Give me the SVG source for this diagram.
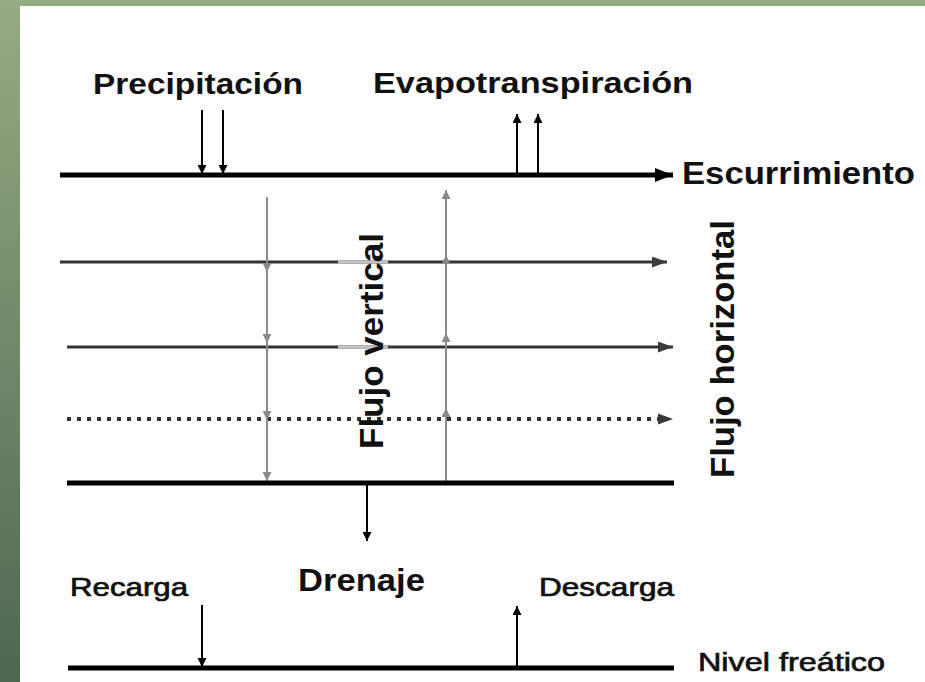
<svg xmlns="http://www.w3.org/2000/svg" width="925" height="682" viewBox="0 0 925 682">
  <defs>
    <linearGradient id="bandGrad" x1="0" y1="0" x2="0" y2="1">
      <stop offset="0" stop-color="#97ab82"/>
      <stop offset="1" stop-color="#4c6851"/>
    </linearGradient>
    <marker id="headBig" markerUnits="userSpaceOnUse" markerWidth="18" markerHeight="14" refX="18" refY="7" orient="auto">
      <path d="M0,0 L18,7 L0,14 z" fill="#000"/>
    </marker>
    <marker id="headDark" markerUnits="userSpaceOnUse" markerWidth="15" markerHeight="11" refX="15" refY="5.5" orient="auto">
      <path d="M0,0 L15,5.5 L0,11 z" fill="#3a3a3a"/>
    </marker>
    <marker id="headSmall" markerUnits="userSpaceOnUse" markerWidth="9" markerHeight="9" refX="9" refY="4.5" orient="auto">
      <path d="M0,0 L9,4.5 L0,9 z" fill="#000"/>
    </marker>
    <marker id="headGray" markerUnits="userSpaceOnUse" markerWidth="9" markerHeight="9" refX="9" refY="4.5" orient="auto">
      <path d="M0,0 L9,4.5 L0,9 z" fill="#8a8a8a"/>
    </marker>
  </defs>
  <style>
    .t { font-family: "Liberation Sans", Arial, sans-serif; fill: #111; }
    .b { font-weight: bold; }
    .m { stroke: #111; stroke-width: 0.7; }
    .thick { stroke: #000; stroke-width: 5; fill: none; }
    .dark { stroke: #333; stroke-width: 3; fill: none; }
    .faint { stroke: #c4c4c4; stroke-width: 3; fill: none; }
    .small { stroke: #000; stroke-width: 2; fill: none; marker-end: url(#headSmall); }
    .vgray { stroke: #8a8a8a; stroke-width: 2; fill: none; marker-mid: url(#headGray); marker-end: url(#headGray); }
  </style>

  <!-- background -->
  <rect x="0" y="0" width="925" height="682" fill="#ffffff"/>
  <rect x="0" y="0" width="925" height="6" fill="#97ab82"/>
  <rect x="0" y="0" width="20" height="682" fill="url(#bandGrad)"/>

  <g id="connectors">
    <!-- surface line / Escurrimiento -->
    <line class="thick" x1="60" y1="175" x2="673" y2="175" marker-end="url(#headBig)"/>
    <!-- precipitation arrows -->
    <line class="small" x1="202" y1="110" x2="202" y2="174"/>
    <line class="small" x1="223" y1="110" x2="223" y2="174"/>
    <!-- evapotranspiration arrows -->
    <line class="small" x1="517" y1="176" x2="517" y2="114"/>
    <line class="small" x1="538" y1="176" x2="538" y2="114"/>
    <!-- horizontal flow lines -->
    <line class="dark" x1="60" y1="262" x2="667" y2="262" marker-end="url(#headDark)"/>
    <line class="faint" x1="338" y1="262" x2="388" y2="262"/>
    <line class="dark" x1="67" y1="347" x2="673" y2="347" marker-end="url(#headDark)"/>
    <line class="faint" x1="338" y1="347" x2="388" y2="347"/>
    <line stroke="#333" stroke-width="4" stroke-dasharray="4 6" x1="67" y1="419" x2="662" y2="419"/>
    <path d="M658,413.5 L673,419 L658,424.5 z" fill="#3a3a3a"/>
    <!-- vertical flow lines -->
    <polyline class="vgray" points="267,197 267,272 267,343 267,420 267,481"/>
    <polyline class="vgray" points="446,483 446,408 446,333 446,255 446,190"/>
    <!-- bottom of root zone -->
    <line class="thick" x1="67" y1="483" x2="674" y2="483"/>
    <!-- drainage -->
    <line class="small" x1="367" y1="484" x2="367" y2="541"/>
    <!-- recharge / discharge -->
    <line class="small" x1="202" y1="605" x2="202" y2="667"/>
    <line class="small" x1="517" y1="667" x2="517" y2="606"/>
    <!-- water table -->
    <line class="thick" x1="68" y1="668" x2="674" y2="668"/>
  </g>

  <g id="precipitacion"><text class="t b" x="93" y="94" font-size="30" textLength="210" lengthAdjust="spacingAndGlyphs">Precipitación</text></g>
  <g id="evapotranspiracion"><text class="t b" x="373" y="93" font-size="30" textLength="320" lengthAdjust="spacingAndGlyphs">Evapotranspiración</text></g>
  <g id="escurrimiento"><text class="t b" x="682" y="184" font-size="31" textLength="233" lengthAdjust="spacingAndGlyphs">Escurrimiento</text></g>
  <g id="flujo-vertical"><text class="t b" transform="translate(383,449) rotate(-90)" font-size="34" textLength="216" lengthAdjust="spacingAndGlyphs">Flujo vertical</text></g>
  <g id="flujo-horizontal"><text class="t b" transform="translate(734,478) rotate(-90)" font-size="34" textLength="258" lengthAdjust="spacingAndGlyphs">Flujo horizontal</text></g>
  <g id="drenaje"><text class="t b" x="298" y="591" font-size="31" textLength="127" lengthAdjust="spacingAndGlyphs">Drenaje</text></g>
  <g id="recarga"><text class="t m" x="70" y="596" font-size="25" textLength="118" lengthAdjust="spacingAndGlyphs">Recarga</text></g>
  <g id="descarga"><text class="t m" x="539" y="596" font-size="25" textLength="135" lengthAdjust="spacingAndGlyphs">Descarga</text></g>
  <g id="nivel-freatico"><text class="t m" x="698" y="671" font-size="26" textLength="187" lengthAdjust="spacingAndGlyphs">Nivel freático</text></g>
</svg>
